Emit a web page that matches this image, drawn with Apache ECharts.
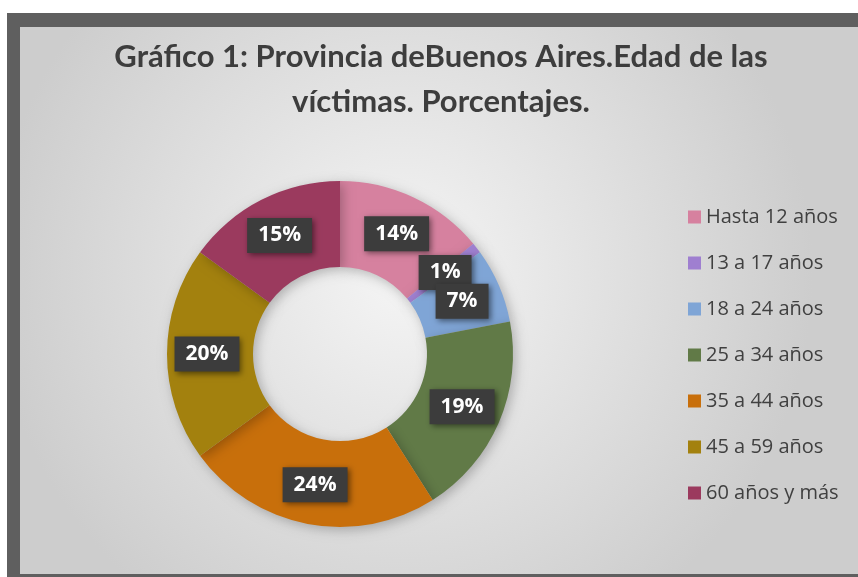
<!DOCTYPE html>
<html>
<head>
<meta charset="utf-8">
<script src="https://cdn.jsdelivr.net/npm/echarts@6/dist/echarts.min.js"></script>
<style>
html,body{margin:0;padding:0;background:#fff;}
#chart{width:858px;height:577px;}
</style>
</head>
<body>
<div id="chart"></div>
<script>
const categories = ["Hasta 12 años","13 a 17 años","18 a 24 años","25 a 34 años","35 a 44 años","45 a 59 años","60 años y más"];
const values = [14, 1, 7, 19, 24, 20, 15];
const colors = ["#d6819f","#9f7fd0","#7fa5d6","#617a47","#c86f0b","#a3810e","#9b3a5e"];
const titleText = "Gráfico 1: Provincia deBuenos Aires.Edad de las\nvíctimas. Porcentajes.";

const chart = echarts.init(document.getElementById('chart'));
chart.setOption({
  animation: false,
  color: colors,
  graphic: [
    {type:'rect', z:-10, silent:true, shape:{x:7,y:13,width:860,height:580}, style:{fill:'#5f5f5f'}},
    {type:'rect', z:-9, silent:true, shape:{x:20,y:27,width:850,height:547},
     style:{fill:new echarts.graphic.RadialGradient(0.45,0.45,0.75,[{offset:0,color:'#f5f5f5'},{offset:1,color:'#cdcdcd'}])}}
  ],
  title: {
    text: titleText,
    left: 436, top: 29, textAlign: 'center',
    textStyle: {fontFamily:'Lato', fontWeight:'bold', fontSize:31, lineHeight:45, color:'#3d3d3d'}
  },
  legend: {
    orient:'vertical', left:683, top:202, icon:'rect', itemWidth:13, itemHeight:13, itemGap:26,
    data: categories,
    textStyle:{fontFamily:'Open Sans', fontSize:20, lineHeight:20, color:'#404040'}
  },
  series: [{
    type:'pie', center:[340,354], radius:[87,173], startAngle:90, clockwise:true,
    avoidLabelOverlap:false, minShowLabelAngle:0,
    labelLayout:{hideOverlap:false},
    itemStyle:{shadowBlur:12, shadowColor:'rgba(0,0,0,0.25)', shadowOffsetX:3, shadowOffsetY:3},
    label:{show:true, position:'inside', formatter:'{c}%', fontFamily:'Open Sans', fontWeight:'bold', fontSize:21,
      color:'#fff', backgroundColor:'#3c3c3c', padding:[7,11],
      shadowBlur:6, shadowColor:'rgba(0,0,0,0.5)', shadowOffsetX:2, shadowOffsetY:2},
    labelLine:{show:false},
    emphasis:{disabled:true},
    data: categories.map((n,i)=>({name:n, value:values[i]}))
  }]
});
</script>
</body>
</html>
